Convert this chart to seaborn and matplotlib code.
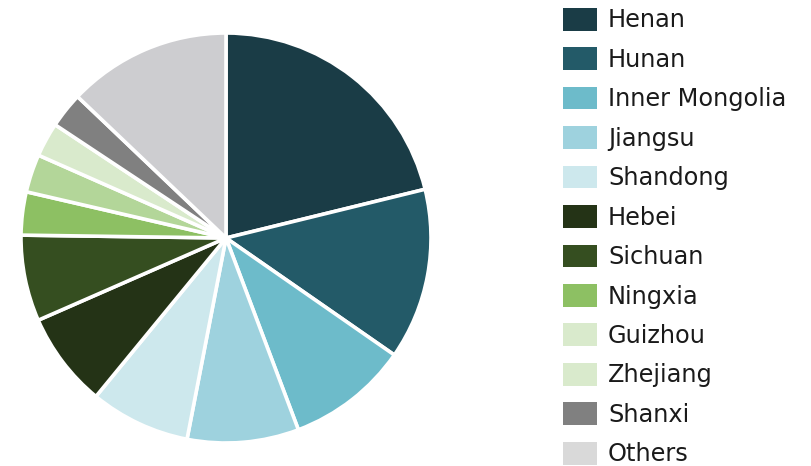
import matplotlib
matplotlib.use("Agg")
import matplotlib.pyplot as plt
from matplotlib.patches import Patch
import seaborn as sns

sns.set_theme(style="white")
plt.rcParams['font.family'] = ['DejaVu Sans']

regions = ["Henan", "Hunan", "Inner Mongolia", "Jiangsu", "Shandong", "Hebei",
           "Sichuan", "Ningxia", "Guizhou", "Zhejiang", "Shanxi", "Others"]
shares = [21.2, 13.5, 9.6, 8.8, 7.9, 7.5, 6.8, 3.4, 3.0, 2.7, 2.8, 12.9]
slice_colors = ["#1a3c46", "#235a68", "#6dbbca", "#9ed2de", "#cde8ed", "#243316",
                "#354e20", "#8dc063", "#b3d699", "#d9eacc", "#808080", "#cdcdd0"]
legend_colors = ["#1a3c46", "#235a68", "#6dbbca", "#9ed2de", "#cde8ed", "#243316",
                 "#354e20", "#8dc063", "#d9eacc", "#d9eacc", "#808080", "#d9d9d9"]

W, H = 811, 466
fig = plt.figure(figsize=(W / 100, H / 100), dpi=100)
cx, cy, r = 226, 238, 205
ax = fig.add_axes([(cx - r) / W, (H - cy - r) / H, 2 * r / W, 2 * r / H])
ax.pie(shares, colors=slice_colors, startangle=90, counterclock=False, radius=1,
       wedgeprops=dict(edgecolor="white", linewidth=2.6))
ax.set_xlim(-1, 1)
ax.set_ylim(-1, 1)
ax.set_aspect("equal")
ax.axis("off")

handles = [Patch(facecolor=c, edgecolor="none") for c in legend_colors]
leg = fig.legend(handles, regions, loc="upper left",
                 bbox_to_anchor=(558 / W, 1 - 3 / H), frameon=False,
                 fontsize=17.3, handlelength=1.42, handleheight=1.08,
                 handletextpad=0.46, labelspacing=0.62, borderaxespad=0,
                 borderpad=0.2)
for t in leg.get_texts():
    t.set_color("#1a1a1a")

fig.savefig("out.png", dpi=100)
